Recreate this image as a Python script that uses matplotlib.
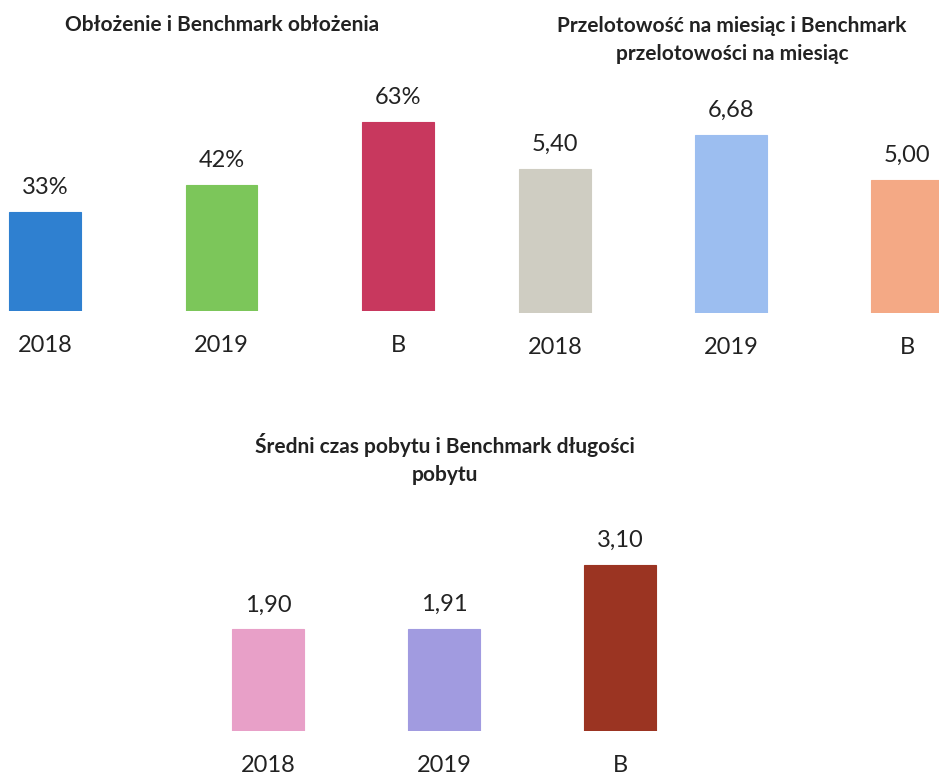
import matplotlib
matplotlib.use("Agg")
from matplotlib import pyplot as plt

categories = ["2018", "2019", "B"]

occupancy = [33, 42, 63]
occupancy_labels = ["33%", "42%", "63%"]
occupancy_colors = ["#2F80D0", "#7CC65A", "#C8385E"]

throughput = [5.40, 6.68, 5.00]
throughput_labels = ["5,40", "6,68", "5,00"]
throughput_colors = ["#CFCDC2", "#9CBEF0", "#F4A985"]

stay = [1.90, 1.91, 3.10]
stay_labels = ["1,90", "1,91", "3,10"]
stay_colors = ["#E8A0C8", "#A19BE0", "#9B3422"]

W, H = 939, 776
FONT = "Lato"


def make_axes(fig, centre_px, spacing_px, base_px, px_per_unit, ymax):
    # place an axes so that bar i sits at centre_px + i*spacing_px (pixels)
    left = centre_px - spacing_px / 2
    width = 3 * spacing_px
    height = ymax * px_per_unit
    bottom = H - base_px
    ax = fig.add_axes([left / W, bottom / H, width / W, height / H])
    ax.set_xlim(-0.5, 2.5)
    ax.set_ylim(0, ymax)
    return ax


def draw_bars(ax, values, labels, colors):
    bars = ax.bar(range(len(values)), values, width=0.405, color=colors,
                  edgecolor=colors, linewidth=0.8)
    ax.bar_label(bars, labels=labels, padding=10, fontsize=17,
                 family=FONT, color="#222222")
    ax.set_xticks(range(len(categories)), categories)
    ax.tick_params(axis="x", length=0, pad=17, labelsize=17,
                   labelcolor="#222222")
    for lab in ax.get_xticklabels():
        lab.set_family(FONT)
    ax.set_yticks([])
    for spine in ax.spines.values():
        spine.set_visible(False)
    ax.patch.set_alpha(0)


fig = plt.figure(figsize=(W / 100, H / 100), dpi=100)

ax1 = make_axes(fig, 45, 176.5, 311, 3.0, 75)
draw_bars(ax1, occupancy, occupancy_labels, occupancy_colors)

ax2 = make_axes(fig, 555, 176, 313, 26.7, 8.5)
draw_bars(ax2, throughput, throughput_labels, throughput_colors)

ax3 = make_axes(fig, 268, 176, 731, 53.5, 4.2)
draw_bars(ax3, stay, stay_labels, stay_colors)

title_kw = dict(ha="center", va="center", fontsize=15, fontweight="bold",
                family=FONT, color="#222222", linespacing=1.45)
fig.text(222 / W, 1 - 25 / H, "Obłożenie i Benchmark obłożenia", **title_kw)
fig.text(732 / W, 1 - 40 / H,
         "Przelotowość na miesiąc i Benchmark\nprzelotowości na miesiąc",
         **title_kw)
fig.text(445 / W, 1 - 459 / H,
         "Średni czas pobytu i Benchmark długości\npobytu", **title_kw)

fig.savefig("out.png", dpi=100, facecolor="white")
